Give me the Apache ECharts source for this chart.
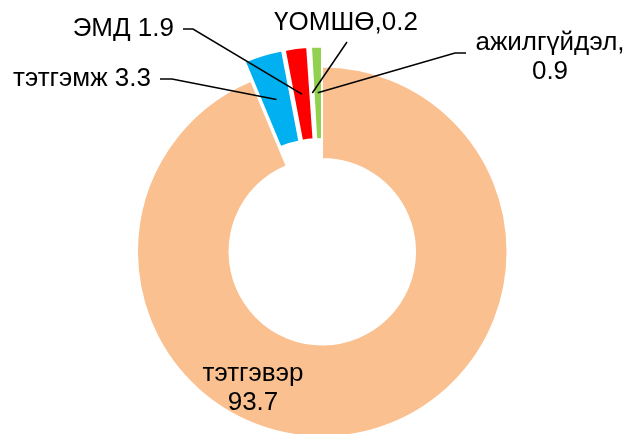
<!DOCTYPE html>
<html>
<head>
<meta charset="utf-8">
<script src="https://cdn.jsdelivr.net/npm/echarts@6/dist/echarts.min.js"></script>
<style>
html, body { margin: 0; padding: 0; background: #fff; }
#main { width: 627px; height: 434px; }
</style>
</head>
<body>
<div id="main"></div>
<script>
// data
var names = ['тэтгэвэр', 'тэтгэмж', 'ЭМД', 'ҮОМШӨ', 'ажилгүйдэл'];
var values = [93.7, 3.3, 1.9, 0.2, 0.9];
var separators = ['\n', ' ', ' ', ',', ',\n'];
var colors = ['#FAC090', '#00B0F0', '#FF0000', '#FFFFFF', '#92D050'];
var exploded = [false, true, true, true, true];

// where each label sits, and where its leader line starts / bends
var labelPos = [
    {x: 253, y: 388, align: 'center', line: null},
    {x: 151, y: 79, align: 'right', line: [[160, 79], [172, 79]]},
    {x: 174, y: 29, align: 'right', line: [[183, 29], [193, 29]]},
    {x: 346, y: 23, align: 'center', line: [[347, 42]]},
    {x: 550, y: 57, align: 'center', line: [[466, 53], [455, 53]]}
];

var explodeOffset = 20;
var pieCenter = ['51.4%', '58%'];
var pieRadius = [93, 185];

var myChart = echarts.init(document.getElementById('main'));

function anchorOf(idx) {
    // middle of the ring at the slice's mid angle, pushed out like the slice
    var data = myChart.getModel().getSeriesByIndex(1).getData();
    var lay = data.getItemLayout(idx);
    var mid = (lay.startAngle + lay.endAngle) / 2;
    var r = (lay.r + lay.r0) / 2 + (exploded[idx] ? explodeOffset : 0);
    return [lay.cx + r * Math.cos(mid), lay.cy + r * Math.sin(mid)];
}

option = {
    animation: false,
    series: [{
        // the visible slices
        type: 'pie',
        z: 2,
        center: pieCenter,
        radius: pieRadius,
        startAngle: 90,
        clockwise: true,
        selectedMode: 'multiple',
        selectedOffset: explodeOffset,
        itemStyle: {
            borderColor: '#ffffff',
            borderWidth: 1.5
        },
        label: {show: false},
        labelLine: {show: false},
        emphasis: {disabled: true},
        data: names.map(function (n, i) {
            return {
                name: n,
                value: values[i],
                selected: exploded[i],
                itemStyle: {color: colors[i]}
            };
        })
    }, {
        // same slices, invisible, only carrying the labels
        type: 'pie',
        z: 5,
        silent: true,
        center: pieCenter,
        radius: pieRadius,
        startAngle: 90,
        clockwise: true,
        avoidLabelOverlap: false,
        itemStyle: {color: 'rgba(0,0,0,0)', borderWidth: 0},
        label: {
            show: true,
            position: 'outside',
            fontFamily: 'Liberation Sans, Arial, sans-serif',
            fontSize: 26,
            lineHeight: 29,
            color: '#000000',
            formatter: function (p) {
                return p.name + separators[p.dataIndex] + values[p.dataIndex];
            }
        },
        labelLine: {
            show: true,
            lineStyle: {color: '#000000', width: 1.5}
        },
        emphasis: {disabled: true},
        labelLayout: function (params) {
            var i = params.dataIndex;
            var lp = labelPos[i];
            var res = {
                x: lp.x,
                y: lp.y,
                align: lp.align,
                verticalAlign: 'middle'
            };
            if (lp.line) {
                var pts = lp.line.slice();
                pts.push(anchorOf(i));
                if (pts.length === 2) {
                    pts.splice(1, 0, pts[0]);
                }
                res.labelLinePoints = pts;
            }
            return res;
        },
        data: names.map(function (n, i) {
            return {
                name: n,
                value: values[i],
                labelLine: {show: labelPos[i].line !== null}
            };
        })
    }]
};

myChart.setOption(option);
</script>
</body>
</html>
